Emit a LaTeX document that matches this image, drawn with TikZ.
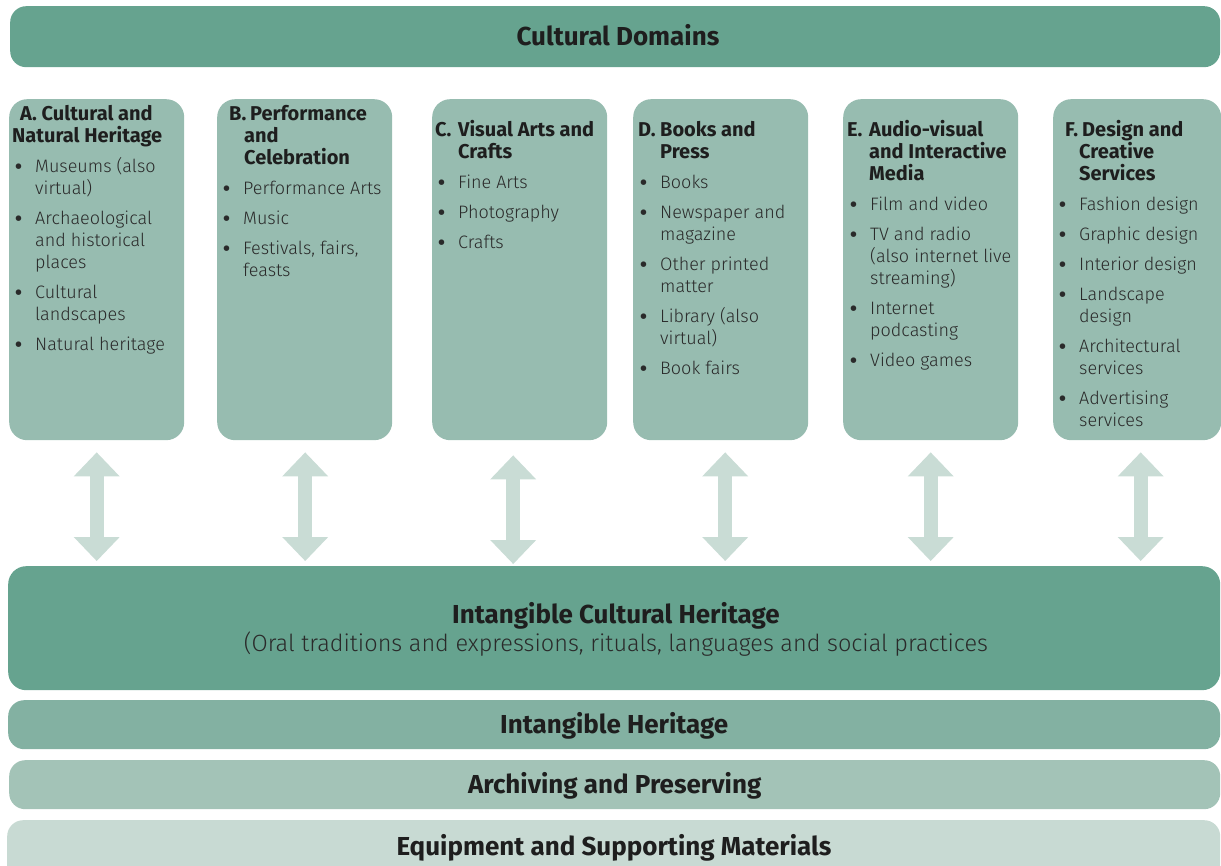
\documentclass[tikz,border=0pt]{standalone}
\usepackage{fontspec}
\setmainfont{Fira Sans}[UprightFont={* Light}, BoldFont={* Bold}]
\usetikzlibrary{arrows.meta}
\definecolor{darkg}{HTML}{66A38F}
\definecolor{colbg}{HTML}{97BCB0}
\definecolor{arrowc}{HTML}{C9DCD5}
\definecolor{barone}{HTML}{83B1A2}
\definecolor{bartwo}{HTML}{A3C3B7}
\definecolor{barthree}{HTML}{C8DAD3}
\definecolor{txt}{HTML}{1E1E1E}
\definecolor{ltxt}{HTML}{2A2A2A}
\newcommand{\colset}{\fontsize{18pt}{22pt}\selectfont\parskip=8pt\parindent=0pt\rightskip=0pt plus 1fil\relax}
\newcommand{\hdfont}{\fontsize{20pt}{22pt}\selectfont\bfseries}
\newcommand{\hd}[5]{\noindent\hangindent=#3\relax\hangafter=1\relax\color{txt}\hdfont\hspace*{#1}\makebox[#2][l]{#4}#5\par}
\newcommand{\bul}{\raisebox{-0.6pt}{\fontsize{20pt}{22pt}\selectfont\bfseries\textbullet}}
\newcommand{\itm}[1]{\noindent\hangindent=20pt\relax\hangafter=1\relax\makebox[20pt][l]{\bul}#1\par}
\tikzset{
  bigbox/.style={fill=darkg, draw=none, rounded corners=16pt, inner sep=0pt, anchor=north west,
    font=\fontsize{26pt}{30pt}\selectfont\bfseries, text=txt, text height=18pt, text depth=0pt},
  colbox/.style={fill=colbg, draw=none, rounded corners=18pt, inner sep=0pt, anchor=north west,
    minimum width=175pt, minimum height=341pt},
  barbox/.style={draw=none, rounded corners=16pt, inner sep=0pt, anchor=north west,
    font=\fontsize{26pt}{30pt}\selectfont\bfseries, text=txt, text height=18pt, text depth=0pt},
  txtblock/.style={anchor=base west, inner sep=0pt, text=ltxt},
  dblarrow/.style={draw=arrowc, line width=14pt,
    {Triangle[width=46pt,length=24pt,line width=0pt,fill=arrowc]}-{Triangle[width=46pt,length=24pt,line width=0pt,fill=arrowc]}}
}
\begin{document}
\begin{tikzpicture}[x=1pt,y=-1pt]
\useasboundingbox (0,0) rectangle (1221,866);
\clip (0,0) rectangle (1221,866);
% top bar
\node[bigbox, minimum width=1210pt, minimum height=61pt] (top) at (10,6) {};
\node[anchor=base, inner sep=0pt, font=\fontsize{26pt}{30pt}\selectfont\bfseries, text=txt] (topT) at (618,46) {Cultural Domains};
% columns
\node[colbox] (colA) at (9,99) {};
\node[colbox] (colB) at (217,99) {};
\node[colbox] (colC) at (432,99) {};
\node[colbox] (colD) at (633,99) {};
\node[colbox] (colE) at (843,99) {};
\node[colbox, minimum width=168pt] (colF) at (1053,99) {};
% column texts
\node[txtblock] (tA) at (15,121) {\begin{minipage}[t]{200pt}\colset
\noindent\color{txt}\hdfont\hspace*{5pt}A. Cultural and\newline\hspace*{-3pt}Natural Heritage\par
\color{ltxt}\colset\mdseries
\itm{Museums (also\\virtual)}
\itm{Archaeological\\and historical\\places}
\itm{Cultural\\landscapes}
\itm{Natural heritage}
\end{minipage}};
\node[txtblock] (tB) at (223,121) {\begin{minipage}[t]{200pt}\colset
\hd{6pt}{21pt}{21pt}{B.}{Performance\\and\\Celebration}
\color{ltxt}\colset\mdseries
\itm{Performance Arts}
\itm{Music}
\itm{Festivals, fairs,\\feasts}
\end{minipage}};
\node[txtblock] (tC) at (438,137) {\begin{minipage}[t]{200pt}\colset
\hd{-3pt}{23pt}{20pt}{C.}{Visual Arts and\\Crafts}
\color{ltxt}\colset\mdseries
\itm{Fine Arts}
\itm{Photography}
\itm{Crafts}
\end{minipage}};
\node[txtblock] (tD) at (640,137) {\begin{minipage}[t]{200pt}\colset
\hd{-2pt}{22pt}{20pt}{D.}{Books and\\Press}
\color{ltxt}\colset\mdseries
\itm{Books}
\itm{Newspaper and\\magazine}
\itm{Other printed\\matter}
\itm{Library (also\\virtual)}
\itm{Book fairs}
\end{minipage}};
\node[txtblock] (tE) at (850,137) {\begin{minipage}[t]{200pt}\colset
\hd{-3pt}{22pt}{19pt}{E.}{Audio-visual\\and Interactive\\Media}
\color{ltxt}\colset\mdseries
\itm{Film and video}
\itm{TV and radio\\(also internet live\\streaming)}
\itm{Internet\\podcasting}
\itm{Video games}
\end{minipage}};
\node[txtblock] (tF) at (1059,137) {\begin{minipage}[t]{200pt}\colset
\hd{6pt}{17pt}{20pt}{F.}{Design and\\Creative\\Services}
\color{ltxt}\colset\mdseries
\itm{Fashion design}
\itm{Graphic design}
\itm{Interior design}
\itm{Landscape\\design}
\itm{Architectural\\services}
\itm{Advertising\\services}
\end{minipage}};
% intangible cultural heritage box
\node[bigbox, minimum width=1212pt, minimum height=124pt, rounded corners=18pt] (ich) at (8,566) {};
\node[anchor=base, inner sep=0pt, font=\fontsize{26pt}{30pt}\selectfont\bfseries, text=txt] (ichT) at (616,623) {Intangible Cultural Heritage};
\node[anchor=base, inner sep=0pt, font=\fontsize{23.5pt}{28pt}\selectfont, text=ltxt] (ichS) at (616,651) {(Oral traditions and expressions, rituals, languages and social practices};
% bottom bars
\node[barbox, fill=barone, minimum width=1212pt, minimum height=49pt] (ih) at (8,700) {Intangible Heritage};
\node[barbox, fill=bartwo, minimum width=1211pt, minimum height=49pt] (arch) at (9,760) {Archiving and Preserving};
\node[barbox, fill=barthree, minimum width=1213pt, minimum height=70pt] (equip) at (7,820) {};
\node[anchor=base, inner sep=0pt, font=\fontsize{26pt}{30pt}\selectfont\bfseries, text=txt] (equipT) at (614,855) {Equipment and Supporting Materials};
% double arrows
\draw[dblarrow] ([yshift=-12pt]colA.south) -- ([yshift=5pt]colA.south |- ich.north);
\draw[dblarrow] ([xshift=0.5pt,yshift=-12pt]colB.south) -- ([xshift=0.5pt,yshift=5pt]colB.south |- ich.north);
\draw[dblarrow] ([xshift=-6.5pt,yshift=-15pt]colC.south) -- ([xshift=-6.5pt,yshift=2pt]colC.south |- ich.north);
\draw[dblarrow] ([xshift=4.5pt,yshift=-12pt]colD.south) -- ([xshift=4.5pt,yshift=5pt]colD.south |- ich.north);
\draw[dblarrow] ([yshift=-12pt]colE.south) -- ([yshift=5pt]colE.south |- ich.north);
\draw[dblarrow] ([xshift=3.5pt,yshift=-12pt]colF.south) -- ([xshift=3.5pt,yshift=5pt]colF.south |- ich.north);
\end{tikzpicture}
\end{document}
